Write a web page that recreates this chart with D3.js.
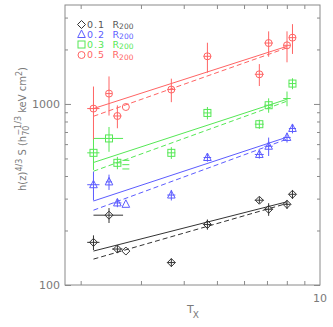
<!DOCTYPE html>
<html><head><meta charset="utf-8">
<script src="https://cdn.jsdelivr.net/npm/d3@7"></script>
<style>body{margin:0;background:#fff}svg{display:block}text{font-family:"DejaVu Sans",sans-serif}</style>
</head><body><svg id="c" width="333" height="327"></svg>
<script>
// ---- data ----
const temps = [2.18, 2.42, 2.56, 2.71, 3.68, 4.69, 6.65, 7.08, 8.01, 8.31];
const radii = ["0.1", "0.2", "0.3", "0.5"];
const val01 = [172, 243, 158, 154, 133, 216, 294, 262, 279, 317];
const err01 = [16, 23, 8, 0, 7, 14, 12, 21, 16, 18];
const xerr01 = [0.09, 0.24, 0.09, 0, 0.1, 0.12, 0.2, 0.2, 0.2, 0.2];
const val02 = [358, 371, 284, 279, 314, 506, 526, 584, 653, 732];
const err02 = [65, 36, 15, 0, 21, 26, 27, 68, 41, 44];
const xerr02 = [0.09, 0.05, 0.07, 0, 0.1, 0.12, 0.2, 0.2, 0.2, 0.2];
const val03 = [537, 645, 473, 462, 537, 892, 773, 984, 1071, 1296];
const err03 = [105, 101, 37, 0, 40, 70, 45, 90, 100, 90];
const xerr03 = [0.09, 0.24, 0.07, 0, 0.1, 0.12, 0.2, 0.2, 0.2, 0.2];
const val05 = [943, 1141, 858, 962, 1201, 1833, 1458, 2170, 2108, 2324];
const err05 = [305, 278, 124, 0, 178, 345, 202, 347, 410, 435];
const xerr05 = [0.09, 0.05, 0.07, 0, 0.1, 0.12, 0.2, 0.2, 0.2, 0.2];
const fitT = [2.18, 8.0];
const fitSolid = {"0.1": [154, 288], "0.2": [291, 655], "0.3": [475, 1061], "0.5": [943, 2080]};
const fitDashed = {"0.1": [139, 282], "0.2": [259, 639], "0.3": [425, 1035], "0.5": [855, 2040]};
const yMajor = [100, 1000];
const yMinor = [200, 300, 400, 500, 600, 700, 800, 900, 2000, 3000];
const xTicks = [2, 3, 4, 5, 6, 7, 8, 9];
const xLabels = [10];

const colors = {"0.1": "#333333", "0.2": "#5c5cff", "0.3": "#55e855", "0.5": "#ff6464"};
const symbols = {"0.1": "diamond", "0.2": "triangle", "0.3": "square", "0.5": "circle"};
const series = [
  {r: "0.1", v: val01, e: err01, xe: xerr01},
  {r: "0.2", v: val02, e: err02, xe: xerr02},
  {r: "0.3", v: val03, e: err03, xe: xerr03},
  {r: "0.5", v: val05, e: err05, xe: xerr05}
];
const markerOverride = {"0.3": {3: "eq", 8: "none"}};

// ---- layout ----
const L = 65, R = 320, T = 5, B = 285;
const x = d3.scaleLog().domain([1.8, 10]).range([L, R]);
const y = d3.scaleLog().domain([100, 3520]).range([B, T]);
const svg = d3.select("#c");
const axisCol = "#8a8a8a", textCol = "#7a7a7a";

svg.append("rect").attr("x", L).attr("y", T).attr("width", R - L).attr("height", B - T)
  .attr("fill", "none").attr("stroke", axisCol).attr("stroke-width", 1);

function axisG(axis, tx, ty) {
  const g = svg.append("g").attr("transform", `translate(${tx},${ty})`).call(axis);
  g.select(".domain").remove();
  g.selectAll("line").attr("stroke", axisCol);
  g.selectAll("text").remove();
  return g;
}
axisG(d3.axisLeft(y).tickValues(yMajor).tickSize(-6), L, 0);
axisG(d3.axisLeft(y).tickValues(yMinor).tickSize(-3), L, 0);
axisG(d3.axisRight(y).tickValues(yMajor).tickSize(-6), R, 0);
axisG(d3.axisRight(y).tickValues(yMinor).tickSize(-3), R, 0);
axisG(d3.axisBottom(x).tickValues(xTicks).tickSize(-4), 0, B);
axisG(d3.axisTop(x).tickValues(xTicks).tickSize(-4), 0, T);

svg.selectAll(".yl").data(yMajor).enter().append("text")
  .attr("x", L - 5).attr("y", d => y(d)).attr("dy", "0.36em")
  .attr("text-anchor", "end").attr("font-size", 11).attr("fill", textCol).text(d => d);
svg.selectAll(".xl").data(xLabels).enter().append("text")
  .attr("x", d => x(d)).attr("y", B + 13).attr("dy", "0.36em")
  .attr("text-anchor", "middle").attr("font-size", 11).attr("fill", textCol).text(d => d);

const xt = svg.append("text").attr("x", 187).attr("y", 313).attr("font-size", 11).attr("fill", textCol);
xt.append("tspan").text("T");
xt.append("tspan").attr("dx", -1).attr("dy", 5).attr("font-size", 9).text("X");

const yt = svg.append("text").attr("transform", "translate(26,129) rotate(-90)")
  .attr("text-anchor", "middle").attr("font-size", 10).attr("fill", textCol);
yt.append("tspan").text("h(z)");
yt.append("tspan").attr("dy", -4).attr("font-size", 8).text("4/3");
yt.append("tspan").attr("dy", 4).text(" S (h");
yt.append("tspan").attr("dy", 3).attr("font-size", 8).text("70");
yt.append("tspan").attr("dx", -10).attr("dy", -8).attr("font-size", 8).text("\u22121/3");
yt.append("tspan").attr("dy", 5).text(" keV cm");
yt.append("tspan").attr("dy", -4).attr("font-size", 8).text("2");
yt.append("tspan").attr("dy", 4).text(")");

function drawMarker(g, type, cx, cy, col) {
  const s = 3.5;
  if (type === "diamond") g.append("path").attr("d", `M${cx},${cy - 4}L${cx + 4},${cy}L${cx},${cy + 4}L${cx - 4},${cy}Z`);
  else if (type === "triangle") g.append("path").attr("d", `M${cx},${cy - 4.5}L${cx + 3.8},${cy + 3}L${cx - 3.8},${cy + 3}Z`);
  else if (type === "square") g.append("rect").attr("x", cx - s).attr("y", cy - s).attr("width", 2 * s).attr("height", 2 * s);
  else if (type === "circle") g.append("circle").attr("cx", cx).attr("cy", cy).attr("r", 3.5);
  else if (type === "eq") {
    [-4.3, 0, 4.3].forEach(o => g.append("line").attr("x1", cx - 3.5).attr("x2", cx + 3.5).attr("y1", cy + o).attr("y2", cy + o));
  }
  g.selectAll("*").attr("fill", "none").attr("stroke", col).attr("stroke-width", 1);
}

const line = d3.line().x(d => x(d[0])).y(d => y(d[1]));
series.forEach(s => {
  const col = colors[s.r];
  const g = svg.append("g");
  g.append("path").attr("d", line(fitT.map((t, i) => [t, fitSolid[s.r][i]])))
    .attr("fill", "none").attr("stroke", col).attr("stroke-width", 1);
  g.append("path").attr("d", line(fitT.map((t, i) => [t, fitDashed[s.r][i]])))
    .attr("fill", "none").attr("stroke", col).attr("stroke-width", 1).attr("stroke-dasharray", "5,3");
  temps.forEach((t, i) => {
    const v = s.v[i], e = s.e[i], xe = s.xe[i];
    const pg = g.append("g");
    if (e > 0) pg.append("line").attr("x1", x(t)).attr("x2", x(t)).attr("y1", y(v - e)).attr("y2", y(v + e))
      .attr("stroke", col).attr("stroke-width", 1);
    if (xe > 0) pg.append("line").attr("x1", x(t - xe)).attr("x2", x(t + xe)).attr("y1", y(v)).attr("y2", y(v))
      .attr("stroke", col).attr("stroke-width", 1);
    const ov = markerOverride[s.r] && markerOverride[s.r][i];
    const type = ov || symbols[s.r];
    if (type !== "none") drawMarker(pg.append("g"), type, x(t), y(v), col);
  });
});

// legend
const legY = [24.5, 34.5, 44.5, 55];
radii.forEach((r, i) => {
  const col = colors[r];
  drawMarker(svg.append("g"), symbols[r], 81.5, legY[i], col);
  const c = r === "0.1" ? "#555" : col;
  svg.append("text").attr("x", 87).attr("y", legY[i]).attr("dy", "0.34em")
    .attr("font-size", 9.5).attr("letter-spacing", 1).attr("fill", c).text(r);
  const tx = svg.append("text").attr("x", 112.5).attr("y", legY[i]).attr("dy", "0.34em")
    .attr("font-size", 9.5).attr("fill", c);
  tx.append("tspan").text("R");
  tx.append("tspan").attr("dy", 1.5).attr("font-size", 7.5).text("200");
});
</script></body></html>
